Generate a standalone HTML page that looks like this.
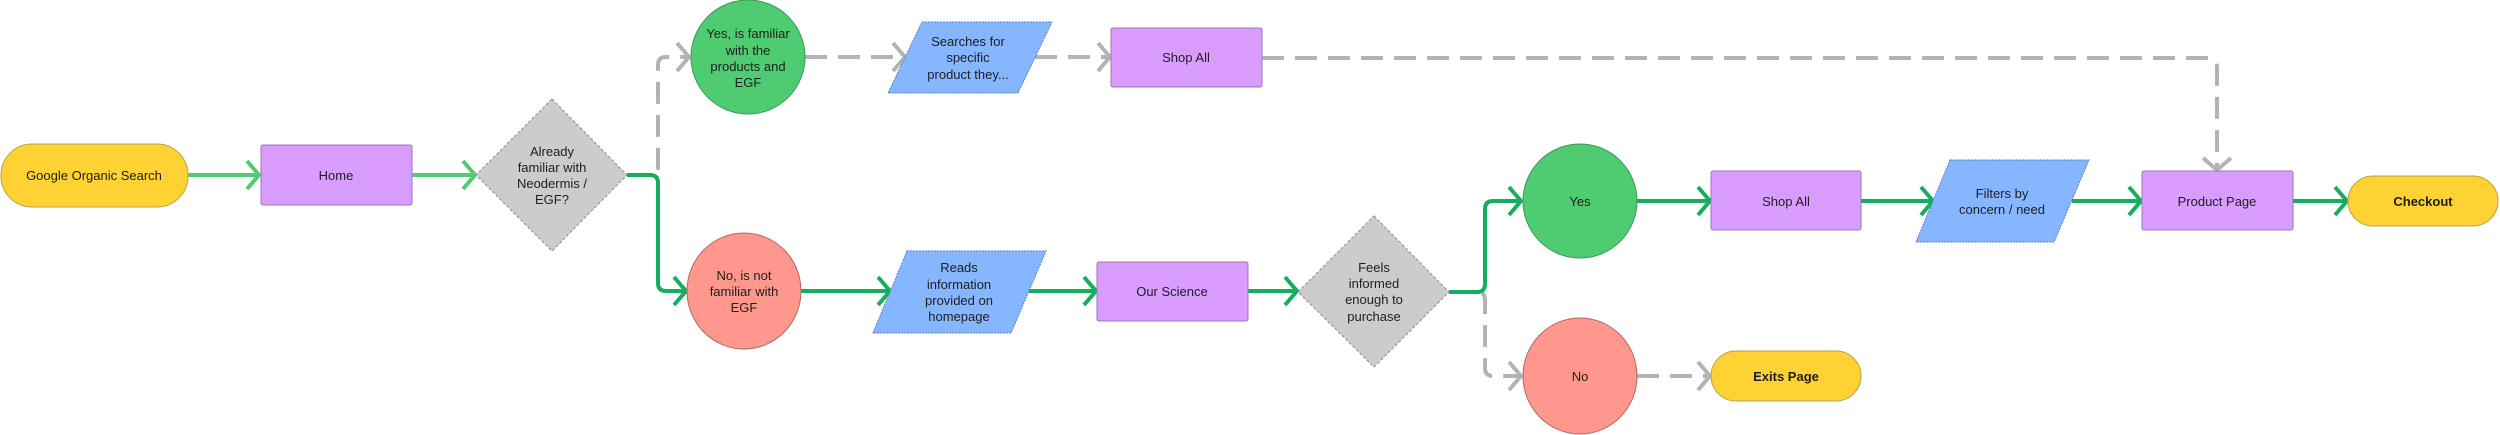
<!DOCTYPE html>
<html><head><meta charset="utf-8"><style>
html,body{margin:0;padding:0;background:#fff;}
svg{display:block;}
text{font-family:"Liberation Sans",sans-serif;font-size:13px;fill:#1e1e1e;text-anchor:middle;}
.b{font-weight:bold;}
</style></head><body>
<svg width="2500" height="435" viewBox="0 0 2500 435" xmlns="http://www.w3.org/2000/svg">
<defs>
<marker id="lg" markerUnits="userSpaceOnUse" markerWidth="20" markerHeight="34" refX="14" refY="16" orient="auto"><path d="M2,2 L14,16 L2,30" fill="none" stroke="#4fcb71" stroke-width="4"/></marker>
<marker id="dg" markerUnits="userSpaceOnUse" markerWidth="20" markerHeight="34" refX="14" refY="16" orient="auto"><path d="M2,2 L14,16 L2,30" fill="none" stroke="#14ae5c" stroke-width="4"/></marker>
<marker id="gr" markerUnits="userSpaceOnUse" markerWidth="20" markerHeight="34" refX="14" refY="16" orient="auto"><path d="M2,2 L14,16 L2,30" fill="none" stroke="#b3b3b3" stroke-width="4"/></marker>
</defs>

<!-- connectors -->
<g fill="none" stroke-width="4">
<path d="M188,175 H259" stroke="#4fcb71" marker-end="url(#lg)"/>
<path d="M412,175 H475" stroke="#4fcb71" marker-end="url(#lg)"/>
<path d="M627,175 H650 Q658,175 658,167 V65 Q658,57 666,57 H689" stroke="#b3b3b3" stroke-dasharray="22 11" marker-end="url(#gr)"/>
<path d="M627,175 H650 Q658,175 658,183 V283 Q658,291 666,291 H686" stroke="#14ae5c" marker-end="url(#dg)"/>
<path d="M805,57 H905" stroke="#b3b3b3" stroke-dasharray="22 11" marker-end="url(#gr)"/>
<path d="M1035,57 H1110" stroke="#b3b3b3" stroke-dasharray="22 11" marker-end="url(#gr)"/>
<path d="M1262,58 H2207 Q2217,58 2217,68 V170" stroke="#b3b3b3" stroke-dasharray="22 11" marker-end="url(#gr)"/>
<path d="M801,291 H890" stroke="#14ae5c" marker-end="url(#dg)"/>
<path d="M1029,291 H1096" stroke="#14ae5c" marker-end="url(#dg)"/>
<path d="M1248,291 H1297" stroke="#14ae5c" marker-end="url(#dg)"/>
<path d="M1449,292 H1477 Q1485,292 1485,300 V368 Q1485,376 1493,376 H1521" stroke="#b3b3b3" stroke-dasharray="22 11" marker-end="url(#gr)"/>
<path d="M1449,292 H1477 Q1485,292 1485,284 V209 Q1485,201 1493,201 H1521" stroke="#14ae5c" marker-end="url(#dg)"/>
<path d="M1637,201 H1710" stroke="#14ae5c" marker-end="url(#dg)"/>
<path d="M1861,201 H1933" stroke="#14ae5c" marker-end="url(#dg)"/>
<path d="M2072,201 H2141" stroke="#14ae5c" marker-end="url(#dg)"/>
<path d="M2293,201 H2347" stroke="#14ae5c" marker-end="url(#dg)"/>
<path d="M1637,376 H1710" stroke="#b3b3b3" stroke-dasharray="22 11" marker-end="url(#gr)"/>
</g>

<!-- nodes -->
<rect x="1" y="144" width="187" height="63" rx="31" fill="#ffd233" stroke="#b8a04a" stroke-width="1"/>
<text x="94" y="180">Google Organic Search</text>

<rect x="261" y="145" width="151" height="60" rx="2" fill="#d99cff" stroke="#9d76b8" stroke-width="1"/>
<text x="336" y="180">Home</text>

<polygon points="552,99 627,175 552,251 476,175" fill="#cdcccd" stroke="#8a8a8a" stroke-width="1" stroke-dasharray="3 2"/>
<text x="552" y="156">Already</text><text x="552" y="172">familiar with</text><text x="552" y="188">Neodermis /</text><text x="552" y="204">EGF?</text>

<ellipse cx="748" cy="57" rx="57" ry="57" fill="#4fcb71" stroke="#3a9a55" stroke-width="1"/>
<text x="748" y="38">Yes, is familiar</text><text x="748" y="55">with the</text><text x="748" y="71">products and</text><text x="748" y="87">EGF</text>

<ellipse cx="744" cy="291" rx="57" ry="58" fill="#ff978d" stroke="#b06a63" stroke-width="1"/>
<text x="744" y="280">No, is not</text><text x="744" y="296">familiar with</text><text x="744" y="312">EGF</text>

<polygon points="922,22 1052,22 1018,93 888,93" fill="#85b6ff" stroke="#5a7fbf" stroke-width="1" stroke-dasharray="2 1"/>
<text x="968" y="46">Searches for</text><text x="968" y="62">specific</text><text x="968" y="79">product they...</text>

<rect x="1111" y="28" width="151" height="59" rx="2" fill="#d99cff" stroke="#9d76b8" stroke-width="1"/>
<text x="1186" y="62">Shop All</text>

<polygon points="907,251 1046,251 1011,333 873,333" fill="#85b6ff" stroke="#5a7fbf" stroke-width="1" stroke-dasharray="2 1"/>
<text x="959" y="272">Reads</text><text x="959" y="289">information</text><text x="959" y="305">provided on</text><text x="959" y="321">homepage</text>

<rect x="1097" y="262" width="151" height="59" rx="2" fill="#d99cff" stroke="#9d76b8" stroke-width="1"/>
<text x="1172" y="296">Our Science</text>

<polygon points="1374,216 1449,292 1374,367 1298,292" fill="#cdcccd" stroke="#8a8a8a" stroke-width="1" stroke-dasharray="3 2"/>
<text x="1374" y="272">Feels</text><text x="1374" y="288">informed</text><text x="1374" y="304">enough to</text><text x="1374" y="321">purchase</text>

<ellipse cx="1580" cy="201" rx="57" ry="57" fill="#4fcb71" stroke="#3a9a55" stroke-width="1"/>
<text x="1580" y="206">Yes</text>

<ellipse cx="1580" cy="376" rx="57" ry="58" fill="#ff978d" stroke="#b06a63" stroke-width="1"/>
<text x="1580" y="381">No</text>

<rect x="1711" y="171" width="150" height="59" rx="2" fill="#d99cff" stroke="#9d76b8" stroke-width="1"/>
<text x="1786" y="206">Shop All</text>

<polygon points="1950,160 2089,160 2054,242 1916,242" fill="#85b6ff" stroke="#5a7fbf" stroke-width="1" stroke-dasharray="2 1"/>
<text x="2002" y="198">Filters by</text><text x="2002" y="214">concern / need</text>

<rect x="2142" y="171" width="151" height="59" rx="2" fill="#d99cff" stroke="#9d76b8" stroke-width="1"/>
<text x="2217" y="206">Product Page</text>

<rect x="2348" y="176" width="150" height="50" rx="25" fill="#ffd233" stroke="#b8a04a" stroke-width="1"/>
<text x="2423" y="206" class="b">Checkout</text>

<rect x="1711" y="351" width="150" height="50" rx="25" fill="#ffd233" stroke="#b8a04a" stroke-width="1"/>
<text x="1786" y="381" class="b">Exits Page</text>
</svg>
</body></html>
